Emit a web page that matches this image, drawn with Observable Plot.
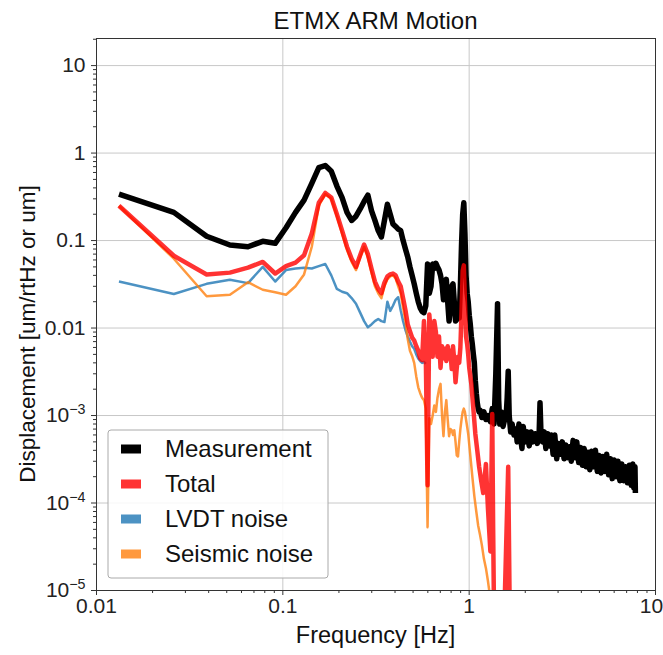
<!DOCTYPE html>
<html>
<head>
<meta charset="utf-8">
<script src="https://cdn.jsdelivr.net/npm/d3@7"></script>
<script src="https://cdn.jsdelivr.net/npm/@observablehq/plot@0.6"></script>
<style>
  body { margin: 0; background: #fff; }
  #chart svg { display: block; }
</style>
</head>
<body>
<div id="chart"></div>
<script>
// ---- data: [frequency (Hz), displacement] ----
const measurement = [
[0.0132,0.34],[0.026,0.21],[0.039,0.112],[0.052,0.089],[0.065,0.085],[0.078,0.098],[0.091,0.093],[0.104,0.14],[0.117,0.21],[0.130,0.29],
[0.143,0.45],[0.156,0.68],[0.169,0.72],[0.182,0.62],[0.195,0.42],[0.208,0.31],[0.221,0.21],[0.234,0.17],[0.247,0.19],[0.260,0.23],
[0.273,0.28],[0.286,0.33],[0.299,0.22],[0.312,0.17],[0.325,0.13],[0.338,0.11],[0.351,0.17],[0.364,0.26],[0.377,0.2],[0.390,0.155],
[0.403,0.145],[0.416,0.135],[0.429,0.13],[0.442,0.1],[0.455,0.08],[0.468,0.065],[0.481,0.05],[0.494,0.04],[0.507,0.032],[0.520,0.025],
[0.533,0.02],[0.546,0.017],[0.559,0.0155],[0.572,0.015],[0.585,0.018],[0.598,0.054],[0.611,0.025],[0.624,0.03],[0.637,0.054],[0.650,0.048],
[0.663,0.055],[0.676,0.05],[0.689,0.046],[0.702,0.04],[0.715,0.032],[0.728,0.021],[0.741,0.03],[0.754,0.036],[0.767,0.02],[0.780,0.012],
[0.793,0.017],[0.806,0.03],[0.819,0.032],[0.832,0.02],[0.845,0.012],[0.858,0.0125],[0.871,0.016],[0.884,0.013],[0.897,0.03],[0.910,0.09],
[0.923,0.2],[0.936,0.27],[0.949,0.12],[0.962,0.04],[0.975,0.025],[0.988,0.02],[1.001,0.014],[1.014,0.011],[1.027,0.008],[1.040,0.0065],
[1.053,0.005],[1.066,0.004],[1.079,0.0025],[1.092,0.0018],[1.105,0.0014],[1.118,0.0012],[1.131,0.0011],[1.144,0.00115],
[1.17,0.00095],[1.2,0.0011],[1.23,0.0009],[1.26,0.001],[1.3,0.00085],[1.33,0.0012],[1.36,0.0008],[1.39,0.003],[1.42,0.019],[1.44,0.0015],
[1.46,0.0008],[1.49,0.0011],[1.52,0.00075],[1.55,0.0009],[1.58,0.001],[1.6,0.0016],[1.62,0.0032],[1.64,0.001],[1.67,0.00065],[1.7,0.0008],
[1.74,0.0006],[1.78,0.0007],[1.81,0.0005],[1.85,0.0008],[1.88,0.0006],[1.92,0.00042],[1.95,0.00075],[2.0,0.0005],[2.05,0.00065],[2.1,0.00045],
[2.15,0.00065],[2.2,0.0005],[2.26,0.00062],[2.32,0.00048],[2.37,0.00055],[2.4,0.0014],[2.43,0.0006],[2.48,0.0005],[2.53,0.00065],[2.58,0.00042],
[2.64,0.00062],[2.7,0.00045],[2.76,0.0006],[2.82,0.00036],[2.88,0.0006],[2.95,0.00032],[3.02,0.00048],[3.09,0.00036],[3.16,0.0005],[3.23,0.00032],
[3.3,0.00046],[3.38,0.00033],[3.45,0.00044],[3.53,0.0003],[3.61,0.00052],[3.7,0.00033],[3.78,0.0005],[3.87,0.00029],[3.96,0.00043],[4.05,0.00027],
[4.14,0.00042],[4.24,0.00026],[4.34,0.00038],[4.44,0.00024],[4.54,0.00039],[4.65,0.00026],[4.76,0.0004],[4.87,0.00023],[4.98,0.00035],[5.1,0.00022],
[5.22,0.00034],[5.34,0.00023],[5.47,0.00036],[5.6,0.00021],[5.73,0.00032],[5.86,0.00019],[6.0,0.00031],[6.14,0.0002],[6.29,0.0003],[6.44,0.00018],
[6.59,0.00028],[6.75,0.00018],[6.91,0.00026],[7.07,0.00017],[7.24,0.00027],[7.41,0.00016],[7.55,0.00028],[7.65,0.00015],[7.76,0.00026],[7.8,0.00013]
];

const total = [
[0.0132,0.25],[0.026,0.067],[0.039,0.041],[0.052,0.043],[0.065,0.049],[0.078,0.057],[0.091,0.042],[0.104,0.051],[0.117,0.056],[0.130,0.068],
[0.143,0.12],[0.156,0.27],[0.169,0.35],[0.182,0.31],[0.195,0.2],[0.208,0.13],[0.221,0.085],[0.234,0.062],[0.247,0.05],[0.260,0.068],
[0.273,0.09],[0.286,0.07],[0.299,0.048],[0.312,0.034],[0.325,0.028],[0.338,0.025],[0.351,0.033],[0.364,0.039],[0.377,0.041],[0.390,0.042],
[0.403,0.04],[0.416,0.034],[0.429,0.03],[0.442,0.022],[0.455,0.016],[0.468,0.011],[0.481,0.0092],[0.494,0.0078],[0.507,0.0072],[0.520,0.0062],
[0.533,0.0055],[0.546,0.0045],[0.559,0.0043],[0.572,0.012],[0.585,0.005],[0.598,0.00016],[0.611,0.0143],[0.624,0.008],[0.637,0.0047],[0.650,0.012],
[0.663,0.009],[0.676,0.0047],[0.689,0.008],[0.702,0.0035],[0.715,0.0062],[0.728,0.0045],[0.741,0.0058],[0.754,0.0042],[0.767,0.0062],[0.780,0.0045],
[0.793,0.0055],[0.806,0.0034],[0.819,0.0062],[0.832,0.0042],[0.845,0.0024],[0.858,0.0035],[0.871,0.0047],[0.884,0.004],[0.897,0.006],[0.910,0.015],
[0.923,0.045],[0.936,0.052],[0.949,0.02],[0.962,0.008],[0.975,0.0066],[0.988,0.005],[1.001,0.0035],[1.027,0.0023],[1.053,0.0012],[1.079,0.00062],
[1.105,0.0004],[1.131,0.00026],[1.16,0.00018],[1.19,0.00013],[1.23,0.00028],[1.26,0.00009],[1.3,0.000028],[1.33,0.00104],[1.345,0.00005],[1.36,0.000005],
[1.45,0.000006],[1.55,0.000007],[1.62,0.00026],[1.65,0.000006]
];

const lvdt = [
[0.0132,0.034],[0.026,0.0245],[0.039,0.032],[0.052,0.0356],[0.065,0.0326],[0.078,0.05],[0.091,0.034],[0.104,0.046],[0.117,0.048],[0.130,0.049],
[0.143,0.048],[0.156,0.051],[0.169,0.054],[0.182,0.04],[0.195,0.028],[0.208,0.026],[0.221,0.025],[0.234,0.022],[0.247,0.019],[0.260,0.015],
[0.273,0.012],[0.286,0.0102],[0.299,0.011],[0.312,0.012],[0.325,0.0127],[0.338,0.012],[0.351,0.0117],[0.364,0.02],[0.377,0.0157],[0.390,0.018],
[0.403,0.021],[0.416,0.0225],[0.429,0.016],[0.442,0.012],[0.455,0.0095],[0.468,0.008],[0.481,0.007],[0.494,0.0062],[0.507,0.0058],[0.520,0.005],
[0.533,0.0045],[0.546,0.0042],[0.559,0.004],[0.572,0.0041],[0.585,0.0039]
];

const seismic = [
[0.0132,0.25],[0.026,0.062],[0.039,0.0231],[0.052,0.024],[0.065,0.0334],[0.078,0.0274],[0.091,0.0257],[0.104,0.024],[0.117,0.03],[0.130,0.041],
[0.143,0.085],[0.156,0.25],[0.169,0.34],[0.182,0.3],[0.195,0.19],[0.208,0.12],[0.221,0.078],[0.234,0.057],[0.247,0.046],[0.260,0.064],
[0.273,0.085],[0.286,0.064],[0.299,0.043],[0.312,0.03],[0.325,0.025],[0.338,0.022],[0.351,0.03],[0.364,0.036],[0.377,0.039],[0.390,0.04],
[0.403,0.037],[0.416,0.03],[0.429,0.025],[0.442,0.017],[0.455,0.012],[0.468,0.0075],[0.481,0.0055],[0.494,0.0048],[0.507,0.004],[0.520,0.0028],
[0.533,0.0021],[0.546,0.0018],[0.559,0.0016],[0.572,0.0015],[0.585,0.0012],[0.598,0.000053],[0.611,0.00093],[0.624,0.0008],[0.637,0.001],[0.650,0.0013],
[0.663,0.0011],[0.676,0.0016],[0.689,0.002],[0.702,0.0023],[0.715,0.001],[0.728,0.00058],[0.741,0.0011],[0.754,0.0015],[0.767,0.0009],[0.780,0.00058],
[0.793,0.0007],[0.806,0.00068],[0.819,0.0006],[0.832,0.00068],[0.845,0.0005],[0.858,0.00035],[0.871,0.00034],[0.884,0.0005],[0.897,0.0007],[0.910,0.0009],
[0.923,0.0011],[0.936,0.0012],[0.949,0.0011],[0.962,0.0009],[0.975,0.00075],[0.988,0.00062],[1.014,0.00035],[1.04,0.0002],[1.066,0.00012],[1.092,0.00008],
[1.118,0.000055],[1.144,0.000043],[1.17,0.000033],[1.2,0.000023],[1.23,0.000018],[1.26,0.000013],[1.3,0.000008]
];

const seriesNames = ["Measurement", "Total", "LVDT noise", "Seismic noise"];
const xTicks = [0.01, 0.1, 1, 10];
const xTickLabels = ["0.01", "0.1", "1", "10"];
const yTicks = [1e-5, 1e-4, 1e-3, 0.01, 0.1, 1, 10];
const yTickLabels = ["10^-5", "10^-4", "10^-3", "0.01", "0.1", "1", "10"];
const titleText = "ETMX ARM Motion";
const xLabel = "Frequency [Hz]";
const yLabel = "Displacement [um/rtHz or um]";

// ---- styles ----
const styles = {
  "Measurement":   {color: "#000000", width: 5.5, opacity: 1},
  "Total":         {color: "#ff0000", width: 4.5, opacity: 0.8},
  "LVDT noise":    {color: "#1f77b4", width: 2.5, opacity: 0.8},
  "Seismic noise": {color: "#ff7f0e", width: 2.5, opacity: 0.8}
};
const seriesData = {
  "Measurement": measurement, "Total": total, "LVDT noise": lvdt, "Seismic noise": seismic
};
const drawOrder = ["Measurement", "LVDT noise", "Seismic noise", "Total"];

const xDomain = [0.01, 10];
const yDomain = [1e-5, 20.4];
const minor = (lo, hi, dom) => {
  const out = [];
  for (let e = lo; e <= hi; e++) for (let m = 2; m <= 9; m++) {
    const v = m * Math.pow(10, e);
    if (v >= dom[0] && v <= dom[1]) out.push(v);
  }
  return out;
};
const xMinor = minor(-2, 0, xDomain);
const yMinor = minor(-5, 1, yDomain);

const FONT = "'Liberation Sans', Arial, Helvetica, sans-serif";

const lineMarks = drawOrder.map(name => Plot.line(seriesData[name], {
  x: d => d[0], y: d => d[1],
  stroke: styles[name].color,
  strokeWidth: styles[name].width,
  strokeOpacity: styles[name].opacity,
  strokeLinejoin: "round",
  strokeLinecap: "butt",
  clip: true
}));

const chart = Plot.plot({
  width: 663,
  height: 655,
  marginLeft: 96,
  marginRight: 8,
  marginTop: 38,
  marginBottom: 65,
  style: {fontFamily: FONT, fontSize: "21px", color: "#222", background: "#fff"},
  x: {type: "log", domain: xDomain},
  y: {type: "log", domain: yDomain},
  marks: [
    Plot.gridX(xTicks, {stroke: "#c8c8c8", strokeOpacity: 1, strokeWidth: 1}),
    Plot.gridY(yTicks, {stroke: "#c8c8c8", strokeOpacity: 1, strokeWidth: 1}),
    Plot.axisX(xMinor, {tickSize: 3, tickFormat: () => "", label: null, stroke: "#333"}),
    Plot.axisY(yMinor, {tickSize: 3, tickFormat: () => "", label: null, stroke: "#333"}),
    Plot.axisX(xTicks, {tickSize: 5, tickPadding: 3, label: null, stroke: "#333",
      tickFormat: d => xTickLabels[xTicks.indexOf(d)], fontSize: 21}),
    Plot.axisY(yTicks, {tickSize: 5, tickPadding: 6, label: null, stroke: "#333",
      tickFormat: d => yTickLabels[yTicks.indexOf(d)], fontSize: 21}),
    ...lineMarks,
    Plot.frame({stroke: "#333", strokeWidth: 1})
  ]
});

document.getElementById("chart").appendChild(chart);

const svg = d3.select(chart);

// superscript exponents on y tick labels
svg.selectAll('g[aria-label="y-axis tick label"] text').each(function () {
  const t = this.textContent;
  if (t.includes("^")) {
    const [b, e] = t.split("^");
    const sel = d3.select(this);
    sel.selectAll("*").remove();
    sel.text(null);
    sel.append("tspan").text(b);
    sel.append("tspan").attr("dy", "-0.55em").attr("font-size", "0.68em").text(e.replace("-", "\u2212"));
  }
});
// keep the rightmost x tick label inside the picture
svg.selectAll('g[aria-label="x-axis tick label"] text').each(function () {
  if (this.textContent === "10") d3.select(this).attr("dx", -4);
});

// title and axis labels
const cx = (96 + 655) / 2;
svg.append("text").attr("x", cx).attr("y", 29).attr("text-anchor", "middle")
  .attr("font-family", FONT).attr("font-size", 24).attr("fill", "#111").text(titleText);
svg.append("text").attr("x", cx).attr("y", 643).attr("text-anchor", "middle")
  .attr("font-family", FONT).attr("font-size", 23.5).attr("fill", "#111").text(xLabel);
svg.append("text").attr("transform", `translate(27,${(38 + 590) / 2 + 20}) rotate(-90)`)
  .attr("dy", "0.35em").attr("text-anchor", "middle")
  .attr("font-family", FONT).attr("font-size", 22.5).attr("fill", "#111").text(yLabel);

// legend
const lg = svg.append("g").attr("text-anchor", "start");
lg.append("rect").attr("x", 108).attr("y", 430).attr("width", 220).attr("height", 148)
  .attr("rx", 3).attr("fill", "#fff").attr("fill-opacity", 0.85)
  .attr("stroke", "#aaa").attr("stroke-width", 1);
seriesNames.forEach((name, i) => {
  const cy = 449 + i * 35;
  lg.append("rect").attr("x", 121).attr("y", cy - 4.5).attr("width", 20).attr("height", 9)
    .attr("fill", styles[name].color).attr("fill-opacity", styles[name].opacity);
  lg.append("text").attr("x", 165).attr("y", cy).attr("dy", "0.35em").attr("text-anchor", "start")
    .attr("font-family", FONT).attr("font-size", 24).attr("fill", "#111").text(name);
});
</script>
</body>
</html>
